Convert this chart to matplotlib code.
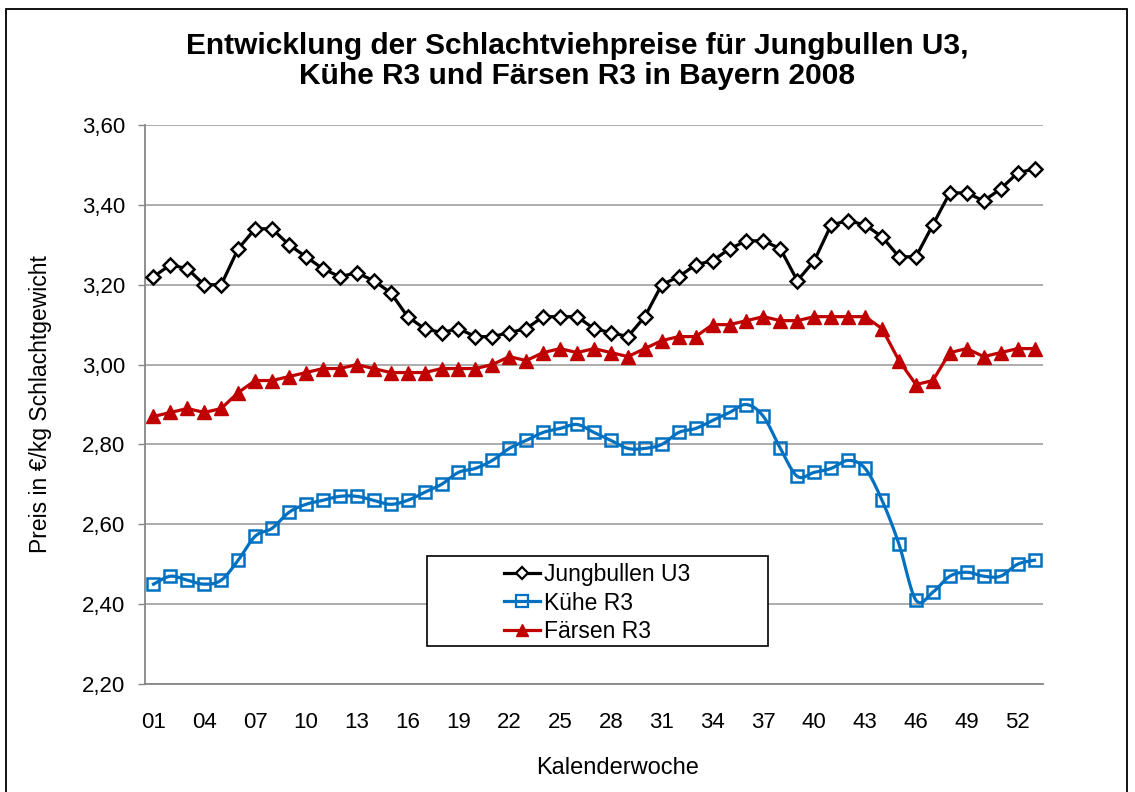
import numpy as np
import matplotlib
matplotlib.use("Agg")
import matplotlib.pyplot as plt
from matplotlib.lines import Line2D
from matplotlib.patches import Rectangle

plt.rcParams["font.family"] = ["Liberation Sans", "DejaVu Sans"]

# Kalenderwochen 2008
weeks = list(range(1, 54))

jungbullen = [3.22, 3.25, 3.24, 3.20, 3.20, 3.29, 3.34, 3.34, 3.30, 3.27,
              3.24, 3.22, 3.23, 3.21, 3.18, 3.12, 3.09, 3.08, 3.09, 3.07,
              3.07, 3.08, 3.09, 3.12, 3.12, 3.12, 3.09, 3.08, 3.07, 3.12,
              3.20, 3.22, 3.25, 3.26, 3.29, 3.31, 3.31, 3.29, 3.21, 3.26,
              3.35, 3.36, 3.35, 3.32, 3.27, 3.27, 3.35, 3.43, 3.43, 3.41,
              3.44, 3.48, 3.49]

kuehe = [2.45, 2.47, 2.46, 2.45, 2.46, 2.51, 2.57, 2.59, 2.63, 2.65,
         2.66, 2.67, 2.67, 2.66, 2.65, 2.66, 2.68, 2.70, 2.73, 2.74,
         2.76, 2.79, 2.81, 2.83, 2.84, 2.85, 2.83, 2.81, 2.79, 2.79,
         2.80, 2.83, 2.84, 2.86, 2.88, 2.90, 2.87, 2.79, 2.72, 2.73,
         2.74, 2.76, 2.74, 2.66, 2.55, 2.41, 2.43, 2.47, 2.48, 2.47,
         2.47, 2.50, 2.51]

faersen = [2.87, 2.88, 2.89, 2.88, 2.89, 2.93, 2.96, 2.96, 2.97, 2.98,
           2.99, 2.99, 3.00, 2.99, 2.98, 2.98, 2.98, 2.99, 2.99, 2.99,
           3.00, 3.02, 3.01, 3.03, 3.04, 3.03, 3.04, 3.03, 3.02, 3.04,
           3.06, 3.07, 3.07, 3.10, 3.10, 3.11, 3.12, 3.11, 3.11, 3.12,
           3.12, 3.12, 3.12, 3.09, 3.01, 2.95, 2.96, 3.03, 3.04, 3.02,
           3.03, 3.04, 3.04]

y_ticks = [2.20, 2.40, 2.60, 2.80, 3.00, 3.20, 3.40, 3.60]
y_ticklabels = ["2,20", "2,40", "2,60", "2,80", "3,00", "3,20", "3,40", "3,60"]

BLACK = "#000000"
BLUE = "#0070C0"
RED = "#C00000"
GRID = "#A6A6A6"


def excel_smooth(x, y, n=16):
    # Bezier-Glaettung wie bei Excel (Catmull-Rom, Faktor 1/6)
    pts = np.column_stack([x, y]).astype(float)
    t = np.linspace(0, 1, n)[:, None]
    out = [pts[:1]]
    for i in range(len(pts) - 1):
        p0 = pts[i - 1] if i > 0 else pts[i]
        p1 = pts[i]
        p2 = pts[i + 1]
        p3 = pts[i + 2] if i + 2 < len(pts) else pts[i + 1]
        c1 = p1 + (p2 - p0) / 6
        c2 = p2 - (p3 - p1) / 6
        seg = ((1 - t) ** 3) * p1 + 3 * ((1 - t) ** 2) * t * c1 \
            + 3 * (1 - t) * t ** 2 * c2 + t ** 3 * p2
        out.append(seg[1:])
    out = np.vstack(out)
    return out[:, 0], out[:, 1]


fig = plt.figure(figsize=(11.35, 7.92), dpi=100)
ax = fig.add_axes([145 / 1135, 1 - 684 / 792, 898 / 1135, 559 / 792])

# Jungbullen
ax.plot(weeks, jungbullen, color=BLACK, lw=2.3, marker="D", ms=7,
        mfc="white", mec=BLACK, mew=1.8, zorder=3)

# Kuehe (geglaettete Linie)
sx, sy = excel_smooth(weeks, kuehe)
ax.plot(sx, sy, color=BLUE, lw=2.3, zorder=3)
ax.plot(weeks, kuehe, ls="none", marker="s", ms=8.5, mfc="none",
        mec=BLUE, mew=1.8, zorder=3)

# Faersen
ax.plot(weeks, faersen, color=RED, lw=2.3, marker="^", ms=10,
        mfc=RED, mec=RED, zorder=3)

ax.set_xlim(0.5, 53.5)
ax.set_ylim(2.20, 3.60)
ax.set_yticks(y_ticks)
ax.set_yticklabels(y_ticklabels)
xt = weeks[::3]
ax.set_xticks(xt)
ax.set_xticklabels([f"{w:02d}" for w in xt])

ax.tick_params(axis="y", length=5, width=1, color="#868686", pad=9,
               labelsize=16)
ax.tick_params(axis="x", length=0, pad=20, labelsize=16)

ax.grid(axis="y", color=GRID, lw=1.3)
ax.set_axisbelow(True)
for s in ["top", "right"]:
    ax.spines[s].set_visible(False)
for s in ["left", "bottom"]:
    ax.spines[s].set_color("#868686")
    ax.spines[s].set_linewidth(1.3)

ax.set_ylabel("Preis in €/kg Schlachtgewicht", fontsize=16.5)
ax.yaxis.set_label_coords(-0.104, 0.5)
ax.set_xlabel("Kalenderwoche", fontsize=17)
ax.xaxis.set_label_coords(0.526, -0.130)

fig.text(577 / 1135, 1 - 61 / 792,
         "Entwicklung der Schlachtviehpreise für Jungbullen U3,\n"
         "Kühe R3 und Färsen R3 in Bayern 2008",
         ha="center", va="center", fontsize=21.5, fontweight="bold",
         linespacing=1.1)

# Legende mit breitem Rahmen
frame = Rectangle((427 / 1135, 1 - 646 / 792), 341 / 1135, 90 / 792,
                  transform=fig.transFigure, facecolor="white",
                  edgecolor="black", lw=1.2, zorder=4)
fig.add_artist(frame)

handles = [
    Line2D([], [], color=BLACK, lw=2.3, marker="D", ms=6, mfc="white",
           mec=BLACK, mew=1.6),
    Line2D([], [], color=BLUE, lw=2.3, marker="s", ms=8, mfc="none",
           mec=BLUE, mew=1.6),
    Line2D([], [], color=RED, lw=2.3, marker="^", ms=9, mfc=RED, mec=RED),
]
leg = fig.legend(handles, ["Jungbullen U3", "Kühe R3", "Färsen R3"],
                 loc="center", bbox_to_anchor=(597 / 1135, 1 - 603 / 792),
                 frameon=False, fontsize=16.5, handlelength=1.6,
                 handletextpad=0.15, labelspacing=0.22, borderpad=0)
leg.set_zorder(5)

# Rahmen des Diagrammbereichs
border = Rectangle((6 / 1135, -0.05), 1121 / 1135, 1.05 - 9 / 792,
                   transform=fig.transFigure, facecolor="none",
                   edgecolor="black", lw=1.3, zorder=1)
fig.add_artist(border)

fig.savefig("out.png", dpi=100)
